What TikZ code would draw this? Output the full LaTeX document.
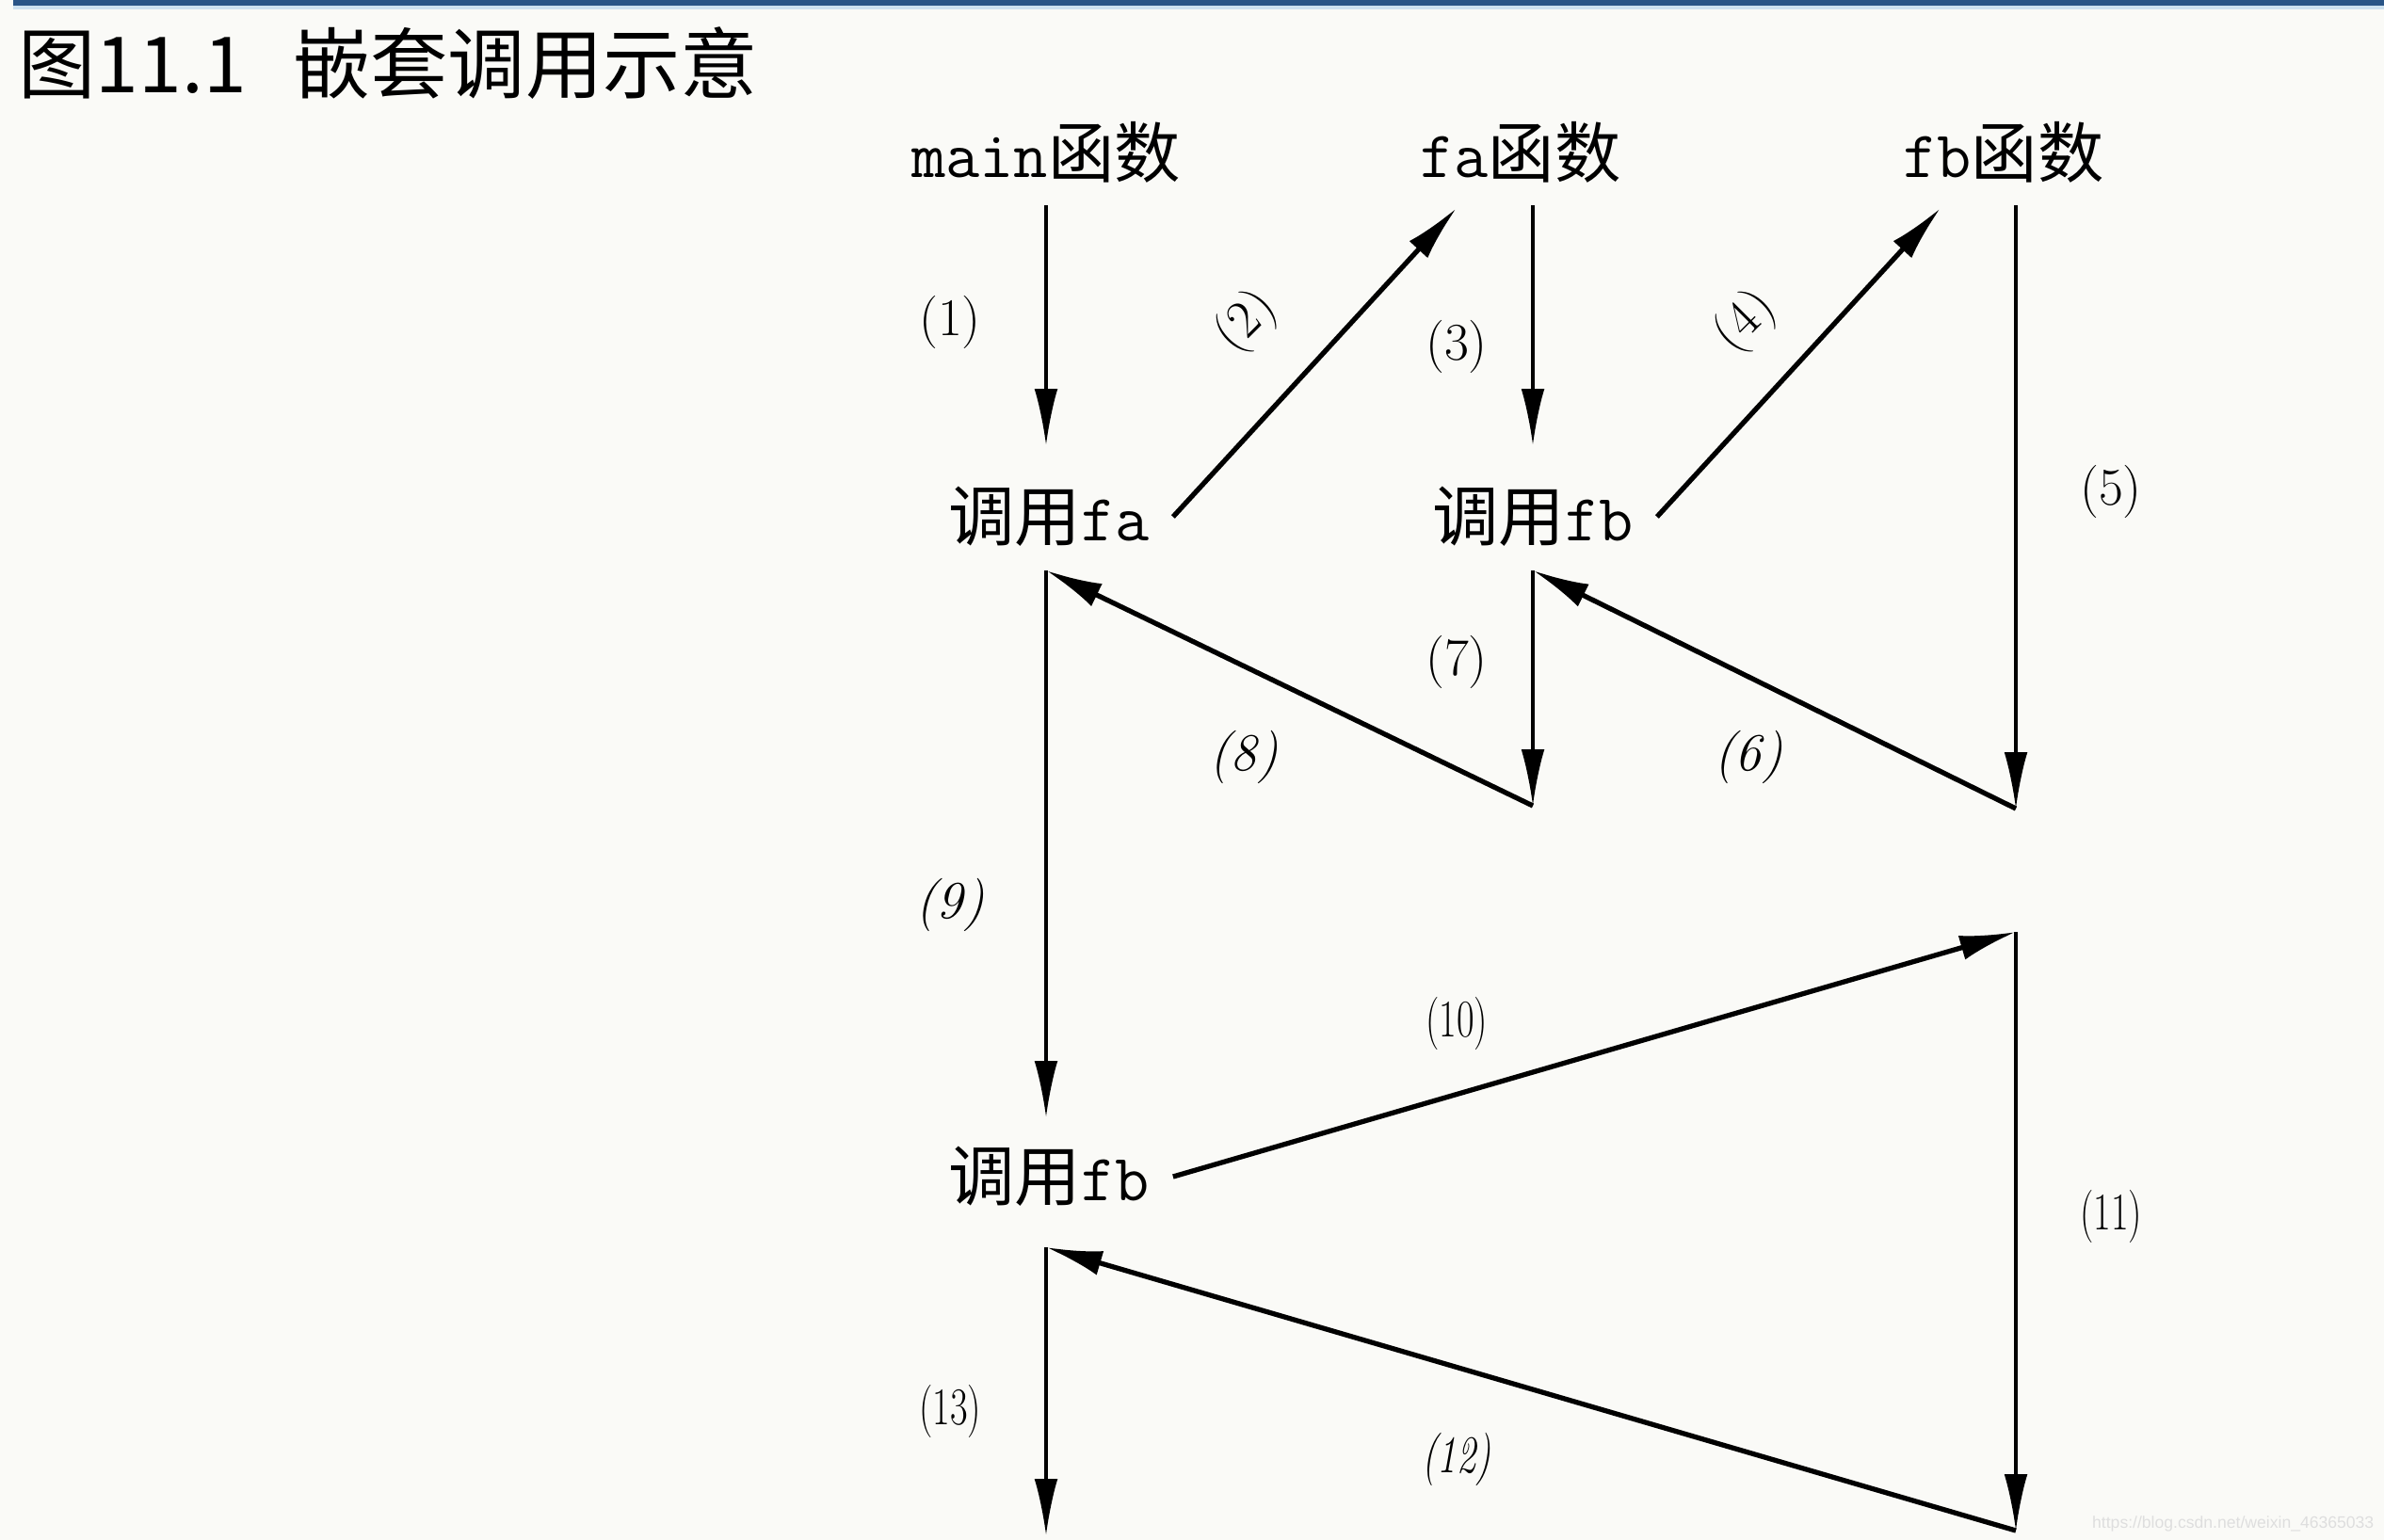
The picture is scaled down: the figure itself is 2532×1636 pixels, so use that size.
\documentclass[tikz,border=0pt]{standalone}
\usepackage{fontspec}
\usepackage{tikz}
\usetikzlibrary{arrows.meta}
\newfontfamily\cjk{Noto Sans CJK SC}
\newfontfamily\wmfont{Liberation Sans}
\definecolor{bgpaper}{RGB}{250,250,247}
\definecolor{barblue}{RGB}{42,85,135}
\definecolor{barlight}{RGB}{205,225,240}
\newcommand{\narrow}[1]{\scalebox{0.72}[1]{#1}}

\begin{document}
\begin{tikzpicture}[x=0.01cm, y=-0.01cm,
  fname/.style={font=\fontsize{20}{24}\selectfont, inner sep=7pt},
  num/.style={font=\fontsize{16}{18}\selectfont, inner sep=1pt},
  vline/.style={line width=0.9pt, -{Latex[length=17pt,width=7pt]}},
  dline/.style={line width=1.5pt, -{Latex[length=17pt,width=7.5pt]}}]
  % page
  \useasboundingbox[fill=bgpaper] (0,0) rectangle (2532,1636);
  \fill[barlight] (14,6) rectangle (2532,10);
  \fill[barblue] (14,0) rectangle (2532,6);
  \node[anchor=west, inner sep=0pt, font=\cjk\fontsize{23.4}{28}\selectfont] (title) at (19,67) {图11.1\hspace{0.6em}嵌套调用示意};

  % function names
  \node[fname] (main) at (1111,162) {{\ttfamily main}{\cjk 函数}};
  \node[fname] (fa) at (1615,162) {{\ttfamily fa}{\cjk 函数}};
  \node[fname] (fb) at (2128,162) {{\ttfamily fb}{\cjk 函数}};
  \node[fname] (callfa) at (1114,549) {{\cjk 调用}{\ttfamily fa}};
  \node[fname] (callfb) at (1628,549) {{\cjk 调用}{\ttfamily fb}};
  \node[fname] (callfbb) at (1114,1250) {{\cjk 调用}{\ttfamily fb}};

  % end points of the flow
  \coordinate (a1) at (1111,218);
  \coordinate (a2) at (1111,473);
  \coordinate (a3) at (1111,606);
  \coordinate (a4) at (1111,1187);
  \coordinate (a5) at (1111,1325);
  \coordinate (a6) at (1111,1631);
  \coordinate (b0) at (1547,221);
  \coordinate (b1) at (1628,218);
  \coordinate (b2) at (1628,473);
  \coordinate (b3) at (1628,606);
  \coordinate (b4) at (1628,856);
  \coordinate (c0) at (2061,221);
  \coordinate (c1) at (2141,218);
  \coordinate (c2) at (2141,859);
  \coordinate (c3) at (2141,990);
  \coordinate (c4) at (2141,1626);

  % main -> fa -> fb and back
  \draw[vline] (a1) -- (a2);
  \draw[dline] (callfa.east) -- (b0);
  \draw[vline] (b1) -- (b2);
  \draw[dline] (callfb.east) -- (c0);
  \draw[vline] (c1) -- (c2);
  \draw[dline] (c2) -- (b3);
  \draw[vline] (b3) -- (b4);
  \draw[dline] (b4) -- (a3);
  \draw[vline] (a3) -- (a4);
  % second call of fb
  \draw[dline] (callfbb.east) -- (c3);
  \draw[vline] (c3) -- (c4);
  \draw[dline] (c4) -- (a5);
  \draw[vline] (a5) -- (a6);

  % step numbers
  \node[num] (n1) at (1009,342) {(1)};
  \node[num, rotate=45] (n2) at (1324,342) {(2)};
  \node[num] (n3) at (1547,368) {(3)};
  \node[num, rotate=45] (n4) at (1854,342) {(4)};
  \node[num] (n5) at (2242,522) {(5)};
  \node[num] (n6) at (1857,804) {\itshape(6)};
  \node[num] (n7) at (1547,703) {(7)};
  \node[num] (n8) at (1321,804) {\itshape(8)};
  \node[num] (n9) at (1009,961) {\itshape(9)};
  \node[num] (n10) at (1547,1087) {\narrow{(10)}};
  \node[num] (n11) at (2242,1292) {\narrow{(11)}};
  \node[num] (n12) at (1547,1550) {\narrow{\itshape(12)}};
  \node[num] (n13) at (1009,1499) {\narrow{(13)}};

  \node[anchor=east, inner sep=0pt, text=black!13, font=\wmfont\fontsize{5}{6}\selectfont] (wm) at (2522,1619) {https://blog.csdn.net/weixin\_46365033};
\end{tikzpicture}
\end{document}
